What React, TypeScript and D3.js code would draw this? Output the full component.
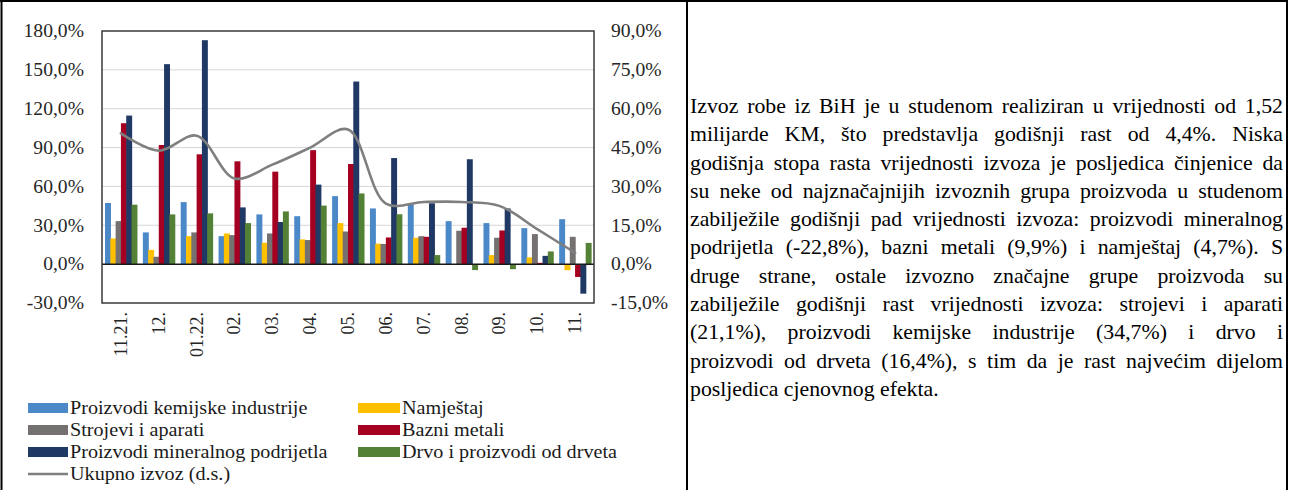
import React, { useEffect, useRef } from "react";
import * as d3 from "d3";

const categories = ["11.21.", "12.", "01.22.", "02.", "03.", "04.", "05.", "06.", "07.", "08.", "09.", "10.", "11."];
const kemijske = [47.2, 24.5, 47.9, 21.6, 38.4, 37.0, 52.5, 43.0, 46.3, 33.2, 31.7, 27.8, 34.7];
const namjestaj = [19.8, 11.0, 21.6, 23.7, 16.5, 19.1, 31.7, 15.8, 20.4, -0.6, 7.0, 5.2, -4.7];
const strojevi = [33.2, 5.7, 24.5, 22.4, 23.7, 18.6, 25.2, 15.6, 21.6, 25.8, 20.4, 23.2, 21.1];
const bazni = [108.8, 92.0, 84.8, 79.4, 71.4, 88.0, 77.3, 20.6, 21.1, 28.1, 26.0, 1.0, -9.9];
const mineralni = [114.7, 154.4, 172.9, 43.8, 32.5, 61.4, 141.0, 81.9, 47.0, 81.0, 43.0, 6.4, -22.8];
const drvo = [45.9, 38.4, 39.2, 31.7, 40.7, 45.2, 54.6, 38.5, 7.0, -4.6, -3.9, 9.8, 16.4];
const ukupno = [50.5, 43.8, 49.6, 33.1, 38.4, 45.0, 52.0, 23.4, 24.0, 24.0, 22.5, 13.5, 4.4];

const leftTicks = [-30, 0, 30, 60, 90, 120, 150, 180];
const rightTicks = [-15, 0, 15, 30, 45, 60, 75, 90];

const seriesNames = [
  "Proizvodi kemijske industrije",
  "Namještaj",
  "Strojevi i aparati",
  "Bazni metali",
  "Proizvodi mineralnog podrijetla",
  "Drvo i proizvodi od drveta",
];
const seriesValues = [kemijske, namjestaj, strojevi, bazni, mineralni, drvo];
const seriesColors = ["#4a88c8", "#ffc000", "#767171", "#a50021", "#1f3864", "#538135"];
const lineName = "Ukupno izvoz (d.s.)";
const lineColor = "#7f7f7f";

const bodyLines = [
  "Izvoz robe iz BiH je u studenom realiziran u vrijednosti od 1,52",
  "milijarde KM, što predstavlja godišnji rast od 4,4%. Niska",
  "godišnja stopa rasta vrijednosti izvoza je posljedica činjenice da",
  "su neke od najznačajnijih izvoznih grupa proizvoda u studenom",
  "zabilježile godišnji pad vrijednosti izvoza: proizvodi mineralnog",
  "podrijetla (-22,8%), bazni metali (9,9%) i namještaj (4,7%). S",
  "druge strane, ostale izvozno značajne grupe proizvoda su",
  "zabilježile godišnji rast vrijednosti izvoza: strojevi i aparati",
  "(21,1%), proizvodi kemijske industrije (34,7%) i drvo i",
  "proizvodi od drveta (16,4%), s tim da je rast najvećim dijelom",
  "posljedica cjenovnog efekta.",
];

const FONT = "'Liberation Serif', 'Times New Roman', serif";
const SX = 1.09;
const serif = { fontFamily: FONT };

const fmt = (v: number) => v.toFixed(1).replace(".", ",") + "%";

export default function App() {
  const W = 1290, H = 490;
  const plot = { l: 102, r: 594, t: 31, b: 303 };
  const x = d3.scaleBand<string>().domain(categories).range([plot.l, plot.r]).padding(0);
  const y = d3.scaleLinear().domain([-30, 180]).range([plot.b, plot.t]);
  const yR = d3.scaleLinear().domain([-15, 90]).range([plot.b, plot.t]);
  const bw = x.bandwidth();
  const groupW = bw * 0.84;
  const x1 = d3.scaleBand<number>().domain(d3.range(6)).range([0, groupW]).padding(0);
  const barW = x1.bandwidth() * 1.12;

  const line = d3
    .line<number>()
    .x((_, i) => (x(categories[i]) as number) + bw / 2)
    .y((d) => yR(d))
    .curve(d3.curveCatmullRom.alpha(0.5));

  const bodyRef = useRef<SVGGElement>(null);
  const textX0 = 690;
  const textWidth = (1283 - 690) / SX;
  const base0 = 113;
  const lh = 28.3;

  useEffect(() => {
    if (!bodyRef.current) return;
    const nodes = d3.select(bodyRef.current).selectAll<SVGTextElement, unknown>("text.jl").nodes();
    nodes.forEach((node, i) => {
      if (i === bodyLines.length - 1) return;
      node.setAttribute("word-spacing", "0");
      const natural = node.getComputedTextLength();
      const spaces = (bodyLines[i].match(/ /g) || []).length;
      if (spaces > 0) {
        const extra = (textWidth - natural) / spaces;
        node.setAttribute("word-spacing", String(extra));
      }
    });
  }, []);

  const legendRows = [408, 430, 452, 474];
  const legendItems = [
    { col: 0, row: 0, s: 0 },
    { col: 1, row: 0, s: 1 },
    { col: 0, row: 1, s: 2 },
    { col: 1, row: 1, s: 3 },
    { col: 0, row: 2, s: 4 },
    { col: 1, row: 2, s: 5 },
  ];
  const colX = [28, 358];

  return (
    <svg
      width={W}
      height={H}
      style={{ position: "absolute", left: 0, top: 0, background: "#fff", fontFamily: FONT }}
    >
      <rect x={0} y={0} width={W} height={H} fill="#fff" />
      {/* table borders */}
      <line x1={1.5} x2={1.5} y1={0} y2={H} stroke="#000" strokeWidth={2} />
      <line x1={0} x2={1288} y1={1} y2={1} stroke="#000" strokeWidth={2} />
      <line x1={687} x2={687} y1={0} y2={H} stroke="#000" strokeWidth={2} />
      <line x1={1287} x2={1287} y1={0} y2={H} stroke="#000" strokeWidth={2} />

      {/* gridlines */}
      {leftTicks
        .filter((t) => t !== -30 && t !== 180 && t !== 0)
        .map((t) => (
          <line key={t} x1={plot.l} x2={plot.r} y1={y(t)} y2={y(t)} stroke="#d6d6d6" strokeWidth={1} />
        ))}

      {/* bars */}
      {categories.map((c, i) => (
        <g key={c} transform={`translate(${(x(c) as number) + (bw - groupW) / 2},0)`}>
          {seriesValues.map((vals, s) => {
            const v = vals[i];
            const y0 = y(0);
            const yv = y(v);
            return (
              <rect
                key={s}
                x={x1(s) as number}
                y={Math.min(y0, yv)}
                width={barW}
                height={Math.abs(yv - y0)}
                fill={seriesColors[s]}
              />
            );
          })}
        </g>
      ))}

      {/* zero line */}
      <line x1={plot.l} x2={plot.r} y1={y(0)} y2={y(0)} stroke="#1a1a1a" strokeWidth={1.5} />

      {/* total line */}
      <path d={line(ukupno) || ""} fill="none" stroke={lineColor} strokeWidth={2.6} strokeLinecap="round" />

      {/* plot border */}
      <rect
        x={plot.l}
        y={plot.t}
        width={plot.r - plot.l}
        height={plot.b - plot.t}
        fill="none"
        stroke="#3a3a3a"
        strokeWidth={1.5}
      />

      {/* left axis labels */}
      {leftTicks.map((t) => (
        <text
          key={t}
          transform={`translate(84,${y(t)}) scale(${SX},1)`}
          textAnchor="end"
          dominantBaseline="central"
          fontSize={18}
          fill="#262626"
          style={serif}
        >
          {fmt(t)}
        </text>
      ))}

      {/* right axis labels */}
      {rightTicks.map((t) => (
        <text
          key={t}
          transform={`translate(611,${yR(t)}) scale(${SX},1)`}
          textAnchor="start"
          dominantBaseline="central"
          fontSize={18}
          fill="#262626"
          style={serif}
        >
          {fmt(t)}
        </text>
      ))}

      {/* x labels */}
      {categories.map((c) => (
        <text
          key={c}
          transform={`translate(${(x(c) as number) + bw / 2},312) rotate(-90)`}
          textAnchor="end"
          dominantBaseline="central"
          fontSize={18}
          fill="#262626"
          style={serif}
        >
          {c}
        </text>
      ))}

      {/* legend */}
      {legendItems.map((it) => (
        <g key={it.s}>
          <rect
            x={colX[it.col]}
            y={legendRows[it.row] - 5}
            width={it.col === 0 ? 40 : 42}
            height={10}
            fill={seriesColors[it.s]}
          />
          <text
            transform={`translate(${colX[it.col] + (it.col === 0 ? 42 : 44)},${legendRows[it.row]}) scale(${SX},1)`}
            dominantBaseline="central"
            fontSize={18.5}
            fill="#1a1a1a"
            style={serif}
          >
            {seriesNames[it.s]}
          </text>
        </g>
      ))}
      <line x1={28} x2={68} y1={legendRows[3]} y2={legendRows[3]} stroke={lineColor} strokeWidth={2.6} />
      <text
        transform={`translate(70,${legendRows[3]}) scale(${SX},1)`}
        dominantBaseline="central"
        fontSize={18.5}
        fill="#1a1a1a"
        style={serif}
      >
        {lineName}
      </text>

      {/* body text */}
      <g ref={bodyRef} transform={`translate(${textX0},0) scale(${SX},1)`}>
        {bodyLines.map((ln, i) => (
          <text key={i} className="jl" x={0} y={base0 + i * lh} fontSize={20} fill="#000" style={serif}>
            {ln}
          </text>
        ))}
      </g>
    </svg>
  );
}
